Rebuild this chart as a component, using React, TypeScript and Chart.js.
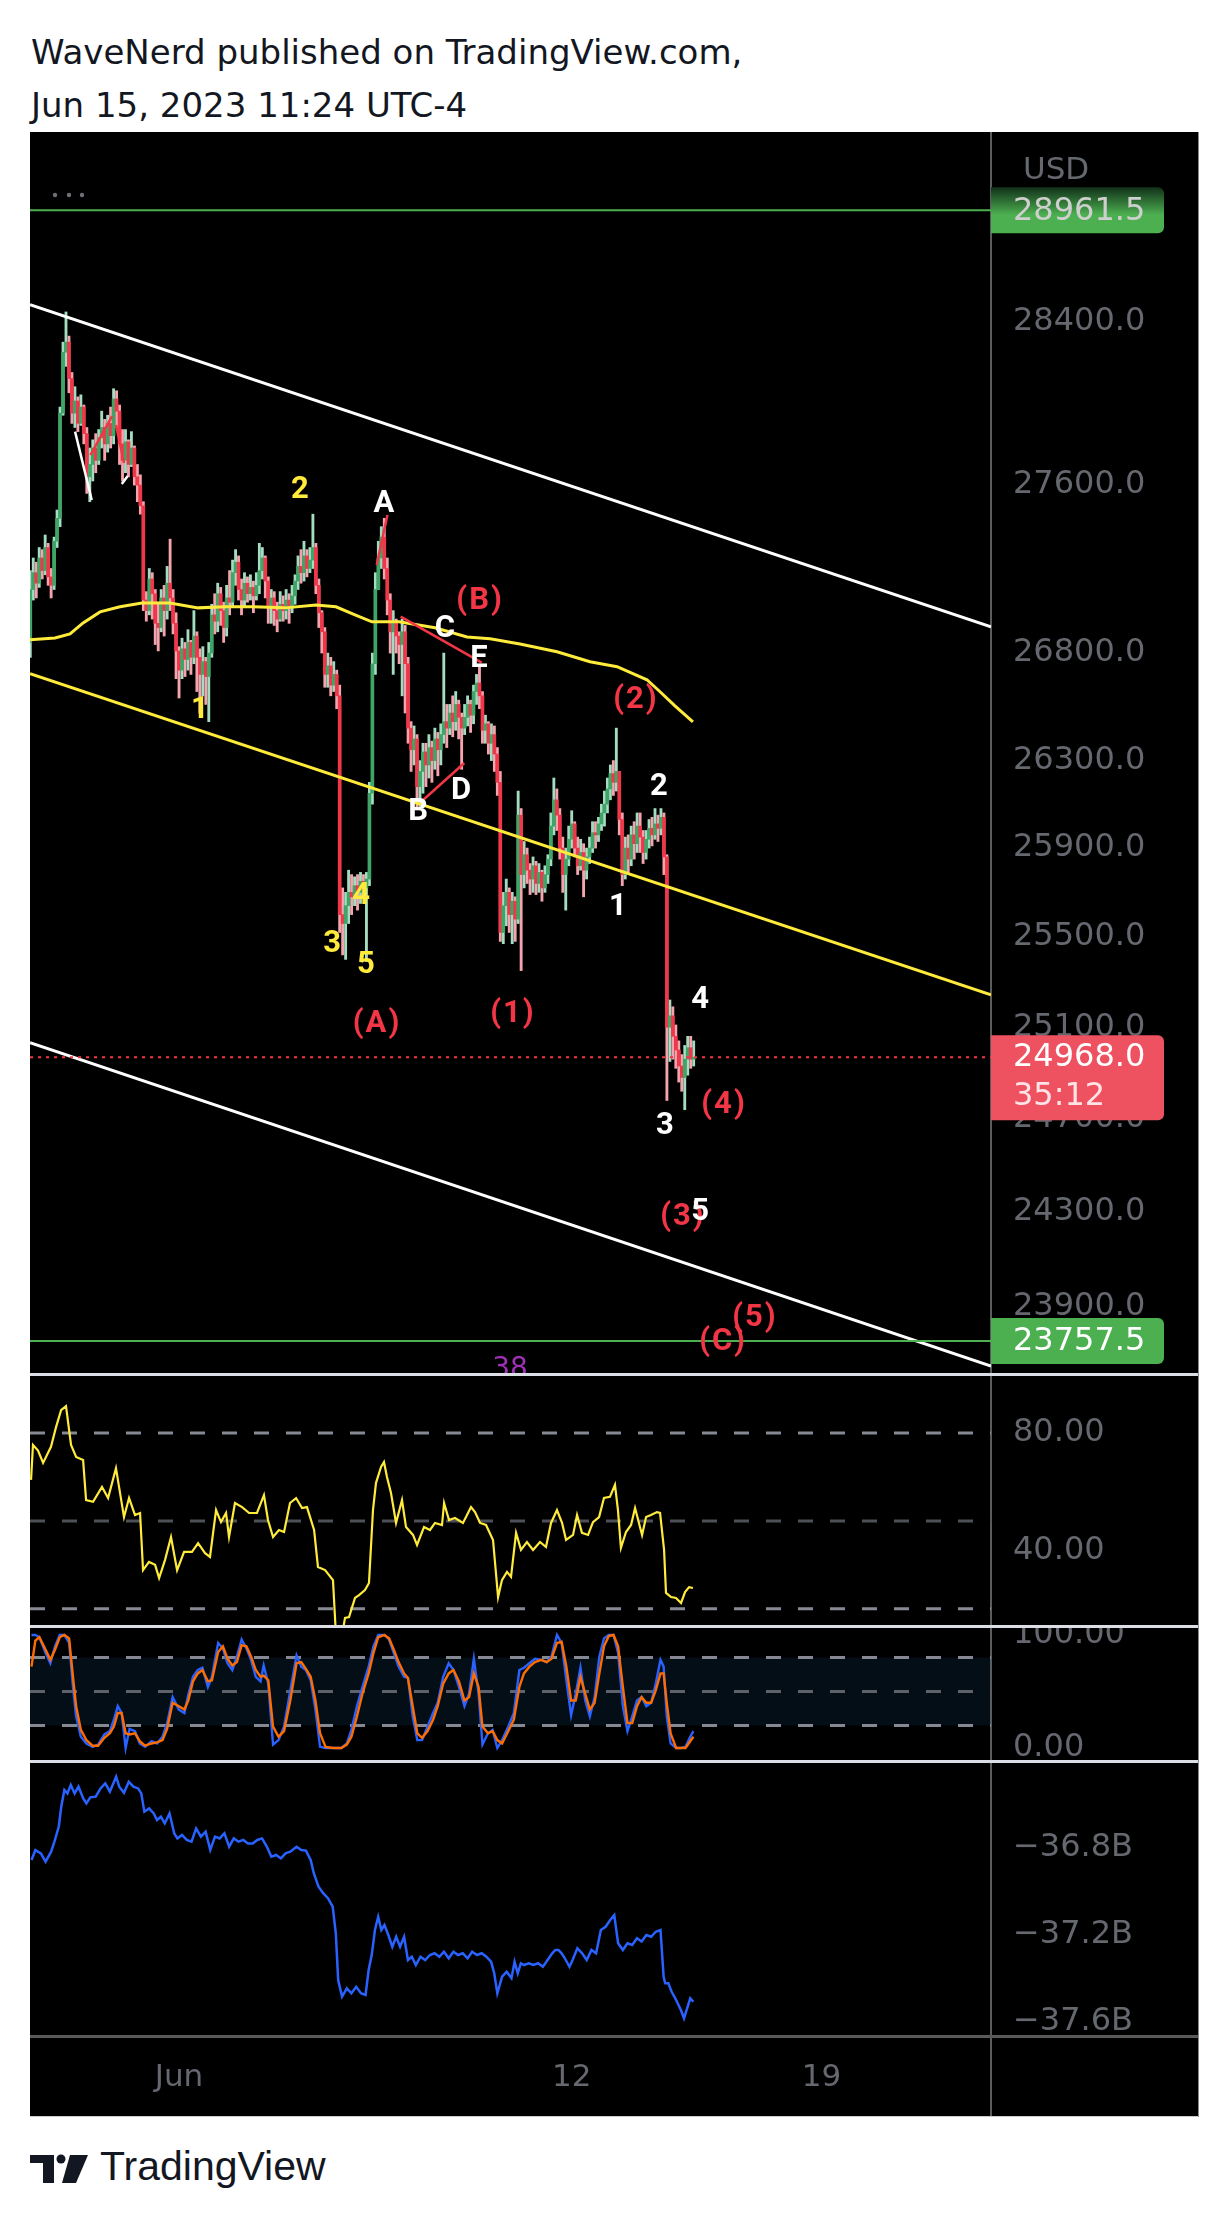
import React, { useEffect, useRef } from 'react';
import { Chart, registerables } from 'chart.js';

Chart.register(...registerables);

// ---------------- DATA ----------------
// time is in hours relative to Jun 1 2023 00:00 (UTC-4)
const X_MIN = -100.2;
const X_MAX = 545.9;

const candleStartHour = -100;
const candleStepHours = 2;
const firstOpen = 26850;

const candleClose = [
  27100,27180,27130,27250,27190,27300,27160,27120,27330,27440,
  27950,28250,28300,28120,27950,28010,27900,27980,27850,27640,
  27700,27780,27720,27830,27880,27800,27900,27840,28020,27960,
  27800,27720,27810,27700,27780,27640,27600,27500,27050,27000,
  27150,27080,26940,26920,27060,27000,27130,27060,26940,26810,
  26720,26820,26770,26850,26780,26880,26780,26700,26760,26690,
  26800,26980,26950,27080,27000,26920,27060,27040,27180,27230,
  27100,27050,27130,27080,27110,27070,27120,27190,27250,27140,
  27020,27060,27000,26960,27030,27000,27050,27020,27070,27140,
  27210,27180,27260,27200,27240,27300,27120,26990,26900,26700,
  26740,26650,26700,26600,25600,25560,25640,25700,25680,25730,
  25700,25750,25720,25760,26150,26750,27100,27250,27350,27200,
  27050,26900,26950,26880,26840,26900,26750,26450,26350,26400,
  26180,26250,26340,26280,26360,26300,26400,26350,26420,26480,
  26450,26520,26480,26560,26500,26450,26500,26560,26510,26620,
  26660,26600,26440,26470,26380,26420,26330,26200,25520,25640,
  25700,25600,25660,25580,26050,25780,25870,25800,25760,25820,
  25740,25790,25720,25780,25850,26000,26120,26050,25900,25780,
  25850,25940,26010,25900,25820,25880,25800,25860,25900,25970,
  25960,26010,26060,26100,26170,26240,26200,26250,26030,25780,
  25900,25850,25960,25920,26000,25950,25880,25940,25990,25960,
  26010,25990,26040,25860,25100,25150,25060,25000,24930,24880,
  24960,25010,24960,24968,
];
const candleHigh = [
  27190,27250,27230,27300,27290,27360,27320,27200,27350,27480,
  27980,28300,28450,28330,28150,28080,28030,28040,27990,27880,
  27780,27820,27850,27870,27960,27920,27940,27980,28070,28060,
  27990,27870,27870,27820,27860,27790,27700,27650,27520,27090,
  27200,27180,27100,27040,27100,27120,27210,27340,27100,26990,
  26830,26870,26850,26910,26860,27000,26900,26820,26830,26780,
  26850,27030,27080,27130,27110,27040,27120,27190,27240,27290,
  27260,27150,27180,27160,27170,27140,27180,27320,27300,27260,
  27160,27100,27090,27040,27090,27070,27100,27080,27120,27170,
  27260,27290,27330,27290,27300,27460,27320,27150,27000,26920,
  26800,26780,26760,26720,26650,25720,25700,25800,25780,25770,
  25780,25790,25780,25790,26200,26800,27180,27330,27400,27440,
  27250,27080,27000,26960,26900,26960,26930,26780,26480,26460,
  26420,26300,26380,26380,26420,26390,26450,26430,26470,26800,
  26560,26560,26600,26620,26580,26520,26560,26600,26580,26650,
  26700,26740,26620,26510,26480,26470,26460,26360,26250,25700,
  25760,25720,25700,25680,26160,26080,25930,25900,25830,25860,
  25840,25830,25800,25820,25870,26060,26220,26170,26080,25950,
  25900,26000,26070,26020,25950,25940,25920,25900,25950,26020,
  26020,26040,26100,26160,26220,26280,26300,26450,26250,26060,
  25950,25960,26000,26020,26060,26060,25980,25980,26030,26040,
  26080,26050,26080,26060,25870,25220,25190,25110,25040,24980,
  25020,25060,25060,25040,
];
const candleLow = [
  26780,27050,27060,27110,27150,27170,27120,27060,27100,27300,
  27400,27940,28180,28050,27900,27880,27860,27890,27800,27560,
  27520,27620,27660,27700,27780,27720,27760,27780,27800,27880,
  27700,27620,27660,27640,27690,27600,27520,27460,27000,26950,
  26980,26960,26840,26810,26900,26880,26960,27000,26890,26680,
  26590,26680,26690,26720,26700,26750,26620,26520,26600,26560,
  26480,26780,26890,26900,26930,26850,26880,26980,27020,27120,
  27050,26980,27020,27040,27050,26990,27050,27080,27150,27060,
  26940,26940,26930,26900,26950,26950,26960,26940,26990,27030,
  27100,27130,27140,27160,27180,27200,27080,26920,26800,26640,
  26640,26600,26620,26540,25520,25420,25400,25560,25600,25640,
  25620,25650,25680,25390,25730,26100,26700,27100,27200,27150,
  26980,26800,26700,26800,26750,26600,26520,26380,26250,26280,
  26080,26090,26150,26180,26220,26200,26260,26230,26280,26380,
  26360,26420,26410,26440,26400,26260,26420,26460,26430,26470,
  26560,26540,26380,26380,26330,26300,26250,26140,25480,25470,
  25550,25520,25470,25480,25560,25350,25720,25740,25690,25700,
  25690,25700,25660,25700,25740,25820,25960,25980,25850,25700,
  25620,25820,25900,25860,25780,25800,25680,25760,25830,25880,
  25900,25930,25980,26000,26060,26120,26140,26160,25960,25730,
  25760,25790,25820,25850,25880,25880,25830,25850,25900,25910,
  25940,25930,25960,25780,24780,24950,24960,24920,24860,24820,
  24740,24890,24920,24930,
];

// yellow moving average (read at sample times)
const maHours = [-100.2,-83.4,-73.3,-64.5,-53.1,-39.7,-24.9,-6.1,12.8,30.9,49.7,71.3,92.1,105.5,118.3,129.7,147.9,172.1,193.6,209.1,229.2,254.1,276.3,294.5,314.6,323.4,333.4,345.5];
const maValues = [26862,26871,26890,26942,26994,27018,27036,27036,27013,27018,27018,27013,27027,27018,26980,26947,26947,26919,26876,26867,26843,26806,26759,26736,26675,26619,26553,26479];

// channel lines [startHour, startPrice, endHour, endPrice]
const channelUpper = [-100.2, 28486, 545.9, 26923];
const channelLower = [-100.2, 25032, 545.9, 23654];
const channelMiddle = [-100.2, 26703, 545.9, 25243];

const levelHigh = 28961.5;
const levelLow = 23757.5;
const lastPrice = 24968.0;
const countdown = '35:12';
const cycleMarkHour = 222.5;
const cycleMarkText = '38';

const priceTicks = [28400, 27600, 26800, 26300, 25900, 25500, 25100, 24700, 24300, 23900];

// Elliott wave labels
const waveLabels = ['1','2','3','4','5','A','(B)','C','E','B','D','(A)','(1)','(2)','1','2','3','4','(4)','(3)','5','(5)','(C)'];
const waveKind =   ['Y','Y','Y','Y','Y','W','R','W','W','W','W','R','R','R','W','W','W','W','R','R','W','R','R'];
const waveHours = [14.1,81.3,102.9,122.4,125.7,137.8,202.4,178.8,201.7,160.7,189.6,133.1,224.5,307.2,295.1,322.7,326.7,350.3,366.4,338.8,350.3,387.2,365.7];
const wavePrices = [26535,27577,25469,25684,25376,27509,27046,26914,26773,26065,26157,25115,25155,26581,25631,26179,24667,25221,24759,24278,24300,23853,23753];

// small drawn wave lines
const markFromHours = [132.9, 149.0, 164.3, -69.9, -59.6, -42.4, -38.5];
const markFromPrices = [27217, 26972, 26120, 27860, 27745, 27892, 27606];
const markToHours = [140.1, 203.5, 191.8, -58.7, -45.0, -37.0, -34.5];
const markToPrices = [27456, 26755, 26289, 27528, 27936, 27707, 27644];
const markKind = ['R','R','R','W','R','R','W'];

// RSI
const rsiHours = [-99.5,-98.2,-94.8,-91.4,-86.1,-82.7,-79.3,-76,-72.6,-69.2,-64.5,-62.5,-57.8,-51.8,-47.7,-42.4,-37,-33.6,-29.6,-26.2,-24.2,-20.2,-16.1,-13.4,-9.4,-5.4,-1.3,3.4,8.7,12.8,17.5,20.8,24.9,28.2,31.6,33.6,37.6,42.4,47.1,52.4,57.1,59.8,63.2,67.2,70.6,74.6,78.7,82.7,86,90.8,93.4,98.2,103.5,105.5,109.6,111.6,114.3,118.3,121,125,127.7,130.4,132.4,135.8,137.8,139.8,142.5,145.9,149.9,152.6,157.3,160,164.7,168.7,172.1,176.8,178.2,181.5,185.5,190.9,196.3,199,202.4,206.4,211.1,214.5,217.1,220.5,223.2,226.6,229.9,233.9,238,242.7,246.7,250.1,254.1,257.5,260.2,264.9,267.6,270.9,275,278.3,282.4,285.7,289.7,293.1,295.1,297.1,300.5,303.9,306.6,311.3,314,317.3,321.3,323.4,326.1,327.4,330.8,334.1,337.5,340.2,342.9,345.5];
const rsiValues = [64,75.9,74,69.8,75.3,82,87.8,89.2,75.9,71.8,70.8,57.1,56.5,61.6,57.8,68,51.3,57.8,52,52.7,33.2,36,35,30.5,36.7,44.5,33.2,39.4,39.4,42.4,39,37.7,53.7,49.6,52.7,44.5,56.1,54.7,52.7,52.7,58.8,50.3,44.5,46.9,46.2,56.1,57.8,54.4,54.7,46.9,34.3,33.2,29.8,11,11,16.9,17.2,23.7,24.7,26.4,28.8,53.7,62.9,68.4,70.1,65,59.5,49.3,57.1,47.9,45.2,41.8,47.9,46.9,49.3,48.6,56.1,50.3,51,49.3,54.7,53,49.3,48.6,43.5,24,29.8,32.6,30.9,45.9,40.1,42.8,40.1,42.8,41.1,49.3,53.7,49.3,43.5,45.2,52,45.9,45.2,49.6,51.3,57.8,58.2,62.3,53.7,40.8,46.2,48.6,54.4,45.2,51.3,52,53,52.7,40.1,25.4,24,23.7,22,25.7,27.4,27.1];
const rsiTicks = [80, 40];
const rsiBands = [80, 50, 20];

// Stochastic RSI
const stochHours = [-99.2,-96.6,-93.9,-89.7,-86.5,-83.4,-80.2,-77.1,-73.9,-71.3,-69.2,-66,-62.3,-58.1,-54.4,-50.2,-46.5,-43.8,-41.2,-38.6,-35.9,-33.3,-29.6,-26.4,-22.8,-18.5,-14.8,-11.1,-8,-4.3,-0.1,3.6,6.2,9.4,12.6,15.7,19.4,22.1,26.3,29.5,32.6,35.8,38.9,42.1,45.3,48.4,51.6,54.8,56.9,60,63.2,66.9,70.6,74.8,79,82.2,85.3,88.5,91.7,94.8,98.5,103.8,109.1,112.8,115.9,119.6,123.3,127.5,130.7,133.9,138.1,141.2,144.4,147.6,151.3,153.9,157.1,160.2,163.4,167.1,170.8,173.9,177.6,181.3,184.5,188.2,191.9,195,198.2,201.4,204,207.7,210.8,214,217.2,221.4,225.1,228.8,231.9,235.6,239.3,243.5,247.2,250.4,254.1,257.2,260.4,263.6,266.7,269.9,273.1,276.2,279.4,282.6,285.7,288.9,292.1,295.2,298.4,301.5,304.7,307.9,311,314.2,317.4,320.5,323.7,325.8,327.9,330.5,334.2,337.4,340.5,343.7,345.8];
const stochK = [100,100,98,84,75,90,100,100,93,54,28,10,4,1,3,12,15,25,37,31,0,17,15,4,1,6,4,10,22,45,34,31,47,63,69,71,54,63,93,88,75,69,81,96,88,78,63,59,73,57,3,7,19,51,82,72,69,60,34,1,0,0,0,4,16,37,54,72,90,100,100,96,84,72,63,62,28,7,7,19,31,40,63,75,69,54,37,48,79,48,3,13,16,0,7,19,31,69,71,75,79,78,76,81,100,93,60,29,48,71,42,28,45,81,97,100,100,84,37,15,28,42,45,37,40,57,78,72,28,4,0,0,1,10,15];
const stochD = [72,95,98,87,78,87,98,100,97,63,37,16,7,2,2,9,13,19,31,31,13,12,13,6,2,4,5,7,17,40,37,34,42,59,66,69,59,60,85,90,79,73,76,91,90,81,69,63,64,60,19,10,15,42,75,76,70,63,42,13,1,0,0,3,10,28,48,66,84,98,100,97,87,76,66,62,37,13,9,15,25,37,57,66,69,59,42,45,66,54,19,13,15,7,4,15,25,54,66,72,76,78,76,79,93,94,72,42,42,63,48,34,40,66,90,99,100,90,54,22,22,37,45,40,40,51,66,66,40,13,0,0,0,6,10];
const stochTicks = [100, 0];
const stochBands = [80, 50, 20];

// volume-flow indicator (billions)
const obvHours = [-99.2,-96.6,-92.9,-89.7,-86,-83.4,-80.8,-79.2,-77.1,-75,-72.8,-70.2,-67.6,-64.4,-62.3,-59.7,-56,-52.8,-49.6,-46.5,-42.3,-40.2,-37,-33.8,-30.7,-27.5,-25.4,-23.3,-20.1,-17,-14.8,-12.2,-9.6,-6.4,-3.2,-1.1,2,5.2,8.4,11.5,14.7,17.9,21,24.2,27.3,30.5,33.7,36.8,40,43.2,46.3,49.5,52.6,55.8,59,62.1,65.3,68.5,71.6,74.8,79,82.2,85.3,88.5,90.6,93.8,96.9,100.1,103.3,105.4,107,109.6,112.8,115.9,119.1,122.3,125.4,127.5,129.6,131.7,133.9,136,138.1,140.7,143.4,146,148.6,151.3,153.9,156.5,159.2,162.3,165.5,168.7,171.8,175,178.1,181.3,184.5,187.6,190.8,194,197.1,200.3,203.5,206.6,209.8,211.9,214,217.2,220.3,223.5,225.6,227.7,229.8,231.9,235.1,238.3,241.4,244.6,247.8,250.9,253,255.1,257.2,259.4,262.5,264.6,267.8,271,274.1,277.3,280.4,283.6,286.8,289.9,292.6,295.2,298.4,301.5,304.7,307.9,311,314.2,317.4,320.5,323.7,325.8,326.9,329,331.1,334.2,337.4,339.5,341.6,343.7,345.8];
const obvValues = [-36.855,-36.81,-36.825,-36.863,-36.817,-36.763,-36.7,-36.61,-36.533,-36.549,-36.51,-36.549,-36.518,-36.572,-36.595,-36.567,-36.564,-36.526,-36.503,-36.541,-36.472,-36.518,-36.546,-36.495,-36.518,-36.526,-36.549,-36.633,-36.618,-36.641,-36.671,-36.656,-36.687,-36.641,-36.733,-36.756,-36.74,-36.763,-36.771,-36.71,-36.748,-36.725,-36.809,-36.748,-36.756,-36.733,-36.794,-36.756,-36.771,-36.763,-36.779,-36.779,-36.763,-36.756,-36.794,-36.84,-36.832,-36.848,-36.825,-36.817,-36.794,-36.809,-36.812,-36.855,-36.916,-36.978,-37.008,-37.031,-37.07,-37.192,-37.407,-37.483,-37.445,-37.468,-37.438,-37.468,-37.476,-37.36,-37.29,-37.177,-37.116,-37.177,-37.154,-37.2,-37.254,-37.208,-37.254,-37.208,-37.315,-37.3,-37.338,-37.3,-37.315,-37.292,-37.284,-37.3,-37.277,-37.307,-37.277,-37.292,-37.284,-37.307,-37.277,-37.292,-37.284,-37.3,-37.323,-37.376,-37.468,-37.392,-37.369,-37.399,-37.323,-37.376,-37.33,-37.338,-37.33,-37.338,-37.33,-37.346,-37.315,-37.284,-37.269,-37.269,-37.284,-37.307,-37.346,-37.315,-37.261,-37.284,-37.315,-37.269,-37.284,-37.177,-37.162,-37.131,-37.108,-37.238,-37.269,-37.238,-37.246,-37.215,-37.23,-37.2,-37.208,-37.185,-37.177,-37.392,-37.422,-37.422,-37.46,-37.499,-37.545,-37.583,-37.537,-37.491,-37.507];
const obvTicks = [-36.8, -37.2, -37.6];

const timeTickHours = [0, 264, 432];
const timeTickLabels = ['Jun', '12', '19'];

// ---------------- STYLE ----------------
const AXIS_W = 208;
const AXIS_COLOR = '#65686f';
const AXIS_FONT = { family: 'DejaVu Sans', size: 32 };
const UP_BODY = '#3fa567';
const UP_WICK = '#a3dcc0';
const DN_BODY = '#f0374a';
const DN_WICK = '#f5a3ad';
const RED = '#f23645';
const YELLOW = '#ffeb3b';
const WHITE = '#ffffff';
const GREEN = '#4caf50';
const KIND_COLOR: Record<string, string> = { R: RED, Y: YELLOW, W: WHITE };

const seg = (h1: number, p1: number, h2: number, p2: number) => [{ x: h1, y: p1 }, { x: h2, y: p2 }];

const lineDs = (data: any[], color: string, width: number, extra: any = {}) => ({
  type: 'line',
  data,
  borderColor: color,
  borderWidth: width,
  pointRadius: 0,
  pointHoverRadius: 0,
  fill: false,
  tension: 0,
  order: 1,
  ...extra,
});

const fitY = (s: any) => {
  s.width = AXIS_W;
  s.paddingTop = 0;
  s.paddingBottom = 0;
  s.paddingLeft = 0;
  s.paddingRight = 0;
};

const hiddenX = () => ({
  type: 'linear',
  min: X_MIN,
  max: X_MAX,
  offset: false,
  display: false,
  grid: { display: false, drawTicks: false },
});

const yAxis = (min: number, max: number, ticks: number[], fmt: (v: number) => string, type = 'linear') => ({
  type,
  position: 'right',
  min,
  max,
  grid: { display: false, drawTicks: false },
  border: { display: false },
  afterBuildTicks: (s: any) => {
    s.ticks = ticks.map((v) => ({ value: v }));
  },
  afterFit: fitY,
  ticks: {
    autoSkip: false,
    padding: 22,
    color: AXIS_COLOR,
    font: AXIS_FONT,
    callback: (v: any) => fmt(Number(v)),
  },
});

const baseOptions = {
  responsive: false,
  animation: false as const,
  devicePixelRatio: 1,
  events: [] as any[],
  layout: { padding: 0, autoPadding: false },
  plugins: { legend: { display: false }, tooltip: { enabled: false } },
};

function rightRoundRect(ctx: CanvasRenderingContext2D, x: number, y: number, w: number, h: number, r: number) {
  ctx.beginPath();
  ctx.moveTo(x, y);
  ctx.lineTo(x + w - r, y);
  ctx.arcTo(x + w, y, x + w, y + r, r);
  ctx.lineTo(x + w, y + h - r);
  ctx.arcTo(x + w, y + h, x + w - r, y + h, r);
  ctx.lineTo(x, y + h);
  ctx.closePath();
}

const mainOverlay = {
  id: 'mainOverlay',
  afterDraw(chart: any) {
    const ctx: CanvasRenderingContext2D = chart.ctx;
    const xs = chart.scales.x;
    const ys = chart.scales.y;
    const area = chart.chartArea;
    ctx.save();
    // wave labels
    ctx.beginPath();
    ctx.rect(area.left, area.top, area.right - area.left, area.bottom - area.top);
    ctx.clip();
    ctx.textAlign = 'center';
    ctx.textBaseline = 'middle';
    waveLabels.forEach((t, i) => {
      ctx.font = 'bold 31px Roboto';
      (ctx as any).letterSpacing = t.startsWith('(') ? '2px' : '0px';
      ctx.fillStyle = KIND_COLOR[waveKind[i]];
      ctx.fillText(t, xs.getPixelForValue(waveHours[i]), ys.getPixelForValue(wavePrices[i]));
    });
    (ctx as any).letterSpacing = '0px';
    // cycle mark
    ctx.font = '28px "DejaVu Sans"';
    ctx.fillStyle = '#a030b8';
    ctx.textBaseline = 'alphabetic';
    ctx.fillText(cycleMarkText, xs.getPixelForValue(cycleMarkHour), area.bottom + 4);
    // dots
    ctx.fillStyle = '#6d7079';
    [25, 39, 52].forEach((dx) => {
      ctx.beginPath();
      ctx.arc(area.left + dx, area.top + 63, 2.2, 0, Math.PI * 2);
      ctx.fill();
    });
    ctx.restore();

    // axis boxes
    ctx.save();
    const bx = area.right;
    const bw = 173;
    ctx.textAlign = 'left';
    ctx.textBaseline = 'middle';
    // USD
    ctx.fillStyle = AXIS_COLOR;
    ctx.font = '31px "DejaVu Sans"';
    ctx.fillText('USD', bx + 32, area.top + 39);
    ctx.font = '32px "DejaVu Sans"';
    // top level box
    let py = ys.getPixelForValue(levelHigh);
    const g = ctx.createLinearGradient(0, py - 23, 0, py + 23);
    g.addColorStop(0, '#12301a');
    g.addColorStop(0.6, GREEN);
    g.addColorStop(1, GREEN);
    ctx.fillStyle = g;
    rightRoundRect(ctx, bx, py - 23, bw, 46, 6);
    ctx.fill();
    ctx.fillStyle = '#cfcfcf';
    ctx.fillText(levelHigh.toFixed(1), bx + 22, py + 1);
    // bottom level box
    py = ys.getPixelForValue(levelLow);
    ctx.fillStyle = GREEN;
    rightRoundRect(ctx, bx, py - 23, bw, 46, 6);
    ctx.fill();
    ctx.fillStyle = '#ffffff';
    ctx.fillText(levelLow.toFixed(1), bx + 22, py + 1);
    // last price box
    py = ys.getPixelForValue(lastPrice);
    ctx.fillStyle = '#ee5261';
    rightRoundRect(ctx, bx, py - 22, bw, 85, 6);
    ctx.fill();
    ctx.fillStyle = '#ffffff';
    ctx.fillText(lastPrice.toFixed(1), bx + 22, py);
    ctx.fillStyle = '#ffe3e6';
    ctx.fillText(countdown, bx + 22, py + 39);
    ctx.restore();
  },
};

const stochFill = {
  id: 'stochFill',
  beforeDatasetsDraw(chart: any) {
    const ctx: CanvasRenderingContext2D = chart.ctx;
    const ys = chart.scales.y;
    const area = chart.chartArea;
    const y1 = ys.getPixelForValue(stochBands[0]);
    const y2 = ys.getPixelForValue(stochBands[2]);
    ctx.save();
    ctx.fillStyle = 'rgba(33,150,243,0.09)';
    ctx.fillRect(area.left, y1, area.right - area.left, y2 - y1);
    ctx.restore();
  },
};

export default function App() {
  const mainRef = useRef<HTMLCanvasElement>(null);
  const rsiRef = useRef<HTMLCanvasElement>(null);
  const stochRef = useRef<HTMLCanvasElement>(null);
  const obvRef = useRef<HTMLCanvasElement>(null);

  useEffect(() => {
    const charts: Chart[] = [];

    const hours = candleClose.map((_, i) => candleStartHour + i * candleStepHours);
    const opens = candleClose.map((_, i) => (i === 0 ? firstOpen : candleClose[i - 1]));
    const up = candleClose.map((c, i) => c >= opens[i]);
    const wickData = hours.map((h, i) => ({ x: h, y: [candleLow[i], candleHigh[i]] }));
    const bodyData = hours.map((h, i) => ({ x: h, y: [Math.min(opens[i], candleClose[i]), Math.max(opens[i], candleClose[i])] }));

    const markDs = markFromHours.map((h, i) =>
      lineDs(seg(h, markFromPrices[i], markToHours[i], markToPrices[i]), KIND_COLOR[markKind[i]], 2.5, { order: 0 })
    );

    if (mainRef.current) {
      charts.push(
        new Chart(mainRef.current, {
          type: 'bar',
          data: {
            datasets: [
              ...markDs,
              lineDs(seg(X_MIN, lastPrice, X_MAX, lastPrice), RED, 2, { borderDash: [3, 5], order: 2 }),
              lineDs(seg(X_MIN, levelHigh, X_MAX, levelHigh), GREEN, 2, { order: 2 }),
              lineDs(seg(X_MIN, levelLow, X_MAX, levelLow), GREEN, 2, { order: 2 }),
              lineDs(seg(channelUpper[0], channelUpper[1], channelUpper[2], channelUpper[3]), WHITE, 3, { order: 3 }),
              lineDs(seg(channelLower[0], channelLower[1], channelLower[2], channelLower[3]), WHITE, 3, { order: 3 }),
              lineDs(seg(channelMiddle[0], channelMiddle[1], channelMiddle[2], channelMiddle[3]), YELLOW, 3, { order: 3 }),
              lineDs(maHours.map((h, i) => ({ x: h, y: maValues[i] })), YELLOW, 3, { order: 3 }),
              {
                type: 'bar',
                data: bodyData,
                backgroundColor: up.map((u) => (u ? UP_BODY : DN_BODY)),
                barThickness: 3,
                grouped: false,
                minBarLength: 1,
                borderWidth: 0,
                order: 8,
              },
              {
                type: 'bar',
                data: wickData,
                backgroundColor: up.map((u) => (u ? UP_WICK : DN_WICK)),
                barThickness: 2.2,
                grouped: false,
                borderWidth: 0,
                order: 9,
              },
            ] as any,
          },
          options: {
            ...baseOptions,
            scales: {
              x: hiddenX(),
              y: yAxis(23625, 29361, priceTicks, (v) => v.toFixed(1), 'logarithmic'),
            },
          } as any,
          plugins: [mainOverlay],
        })
      );
    }

    if (rsiRef.current) {
      charts.push(
        new Chart(rsiRef.current, {
          type: 'line',
          data: {
            datasets: [
              lineDs(rsiHours.map((h, i) => ({ x: h, y: rsiValues[i] })), YELLOW, 2.2, { order: 0 }),
              ...rsiBands.map((b, i) =>
                lineDs(seg(X_MIN, b, X_MAX, b), i === 1 ? '#4d5058' : '#868993', 3, { borderDash: [15, 17], order: 5 })
              ),
            ] as any,
          },
          options: {
            ...baseOptions,
            scales: {
              x: hiddenX(),
              y: yAxis(14.47, 99.45, rsiTicks, (v) => v.toFixed(2)),
            },
          } as any,
        })
      );
    }

    if (stochRef.current) {
      charts.push(
        new Chart(stochRef.current, {
          type: 'line',
          data: {
            datasets: [
              lineDs(stochHours.map((h, i) => ({ x: h, y: stochD[i] })), '#ff6d00', 2.4, { order: 0 }),
              lineDs(stochHours.map((h, i) => ({ x: h, y: stochK[i] })), '#2962ff', 2.4, { order: 1 }),
              ...stochBands.map((b, i) =>
                lineDs(seg(X_MIN, b, X_MAX, b), i === 1 ? '#5f626b' : '#868993', 3, { borderDash: [15, 17], order: 5 })
              ),
            ] as any,
          },
          options: {
            ...baseOptions,
            scales: {
              x: hiddenX(),
              y: yAxis(-10.62, 106.19, stochTicks, (v) => v.toFixed(2)),
            },
          } as any,
          plugins: [stochFill],
        })
      );
    }

    if (obvRef.current) {
      charts.push(
        new Chart(obvRef.current, {
          type: 'line',
          data: {
            datasets: [lineDs(obvHours.map((h, i) => ({ x: h, y: obvValues[i] })), '#2962ff', 2.5)] as any,
          },
          options: {
            ...baseOptions,
            scales: {
              x: {
                type: 'linear',
                min: X_MIN,
                max: X_MAX,
                offset: false,
                grid: { display: false, drawTicks: false },
                border: { display: false },
                afterBuildTicks: (s: any) => {
                  s.ticks = timeTickHours.map((v) => ({ value: v }));
                },
                afterFit: (s: any) => {
                  s.height = 81;
                  s.paddingLeft = 0;
                  s.paddingRight = 0;
                },
                ticks: {
                  autoSkip: false,
                  maxRotation: 0,
                  minRotation: 0,
                  padding: 23,
                  color: AXIS_COLOR,
                  font: { family: 'DejaVu Sans', size: 31 },
                  callback: (_v: any, i: number) => timeTickLabels[i],
                },
              },
              y: yAxis(-37.6644, -36.4092, obvTicks, (v) => '\u2212' + Math.abs(v).toFixed(1) + 'B'),
            },
          } as any,
        })
      );
    }

    return () => charts.forEach((c) => c.destroy());
  }, []);

  const abs = (l: number, t: number, w: number, h: number, extra: React.CSSProperties = {}): React.CSSProperties => ({
    position: 'absolute',
    left: l,
    top: t,
    width: w,
    height: h,
    ...extra,
  });

  return (
    <div style={{ position: 'absolute', left: 0, top: 0, width: 1230, height: 2223, background: '#ffffff', overflow: 'hidden' }}>
      <div style={{ position: 'absolute', left: 31, top: 35, font: '34px "DejaVu Sans"', lineHeight: '34px', color: '#131722', whiteSpace: 'nowrap' }}>
        WaveNerd published on TradingView.com,
      </div>
      <div style={{ position: 'absolute', left: 31, top: 88, font: '34px "DejaVu Sans"', lineHeight: '34px', color: '#131722', whiteSpace: 'nowrap' }}>
        Jun 15, 2023 11:24 UTC-4
      </div>

      <div style={abs(30, 132, 1169, 1985, { background: '#000' })} />
      <div style={abs(990, 132, 2, 1985, { background: '#5c5c5c' })} />

      <canvas ref={mainRef} width={1169} height={1241} style={abs(30, 132, 1169, 1241)} />
      <canvas ref={rsiRef} width={1169} height={249} style={abs(30, 1376, 1169, 249)} />
      <canvas ref={stochRef} width={1169} height={132} style={abs(30, 1628, 1169, 132)} />
      <canvas ref={obvRef} width={1169} height={354} style={abs(30, 1763, 1169, 354)} />

      <div style={abs(30, 1373, 1169, 3, { background: '#dcdee6' })} />
      <div style={abs(30, 1625, 1169, 3, { background: '#dcdee6' })} />
      <div style={abs(30, 1760, 1169, 3, { background: '#dcdee6' })} />
      <div style={abs(30, 2035, 1169, 3, { background: '#5a5a5a' })} />
      <div style={abs(30, 2116, 1169, 1, { background: '#c9cbd1' })} />
      <div style={abs(1198, 132, 1, 1985, { background: '#8a8a8a' })} />

      <svg style={abs(28, 2150, 64, 36)} viewBox="28 2150 64 36">
        <rect x={30} y={2155} width={24} height={8} fill="#131722" />
        <rect x={43} y={2155} width={11} height={28} fill="#131722" />
        <circle cx={61} cy={2159} r={4.5} fill="#131722" />
        <polygon points="70,2155 88,2155 76,2183 62,2183" fill="#131722" />
      </svg>
      <div style={{ position: 'absolute', left: 100, top: 2146, font: '41px "Liberation Sans"', lineHeight: '41px', color: '#131722', whiteSpace: 'nowrap' }}>
        TradingView
      </div>
    </div>
  );
}
